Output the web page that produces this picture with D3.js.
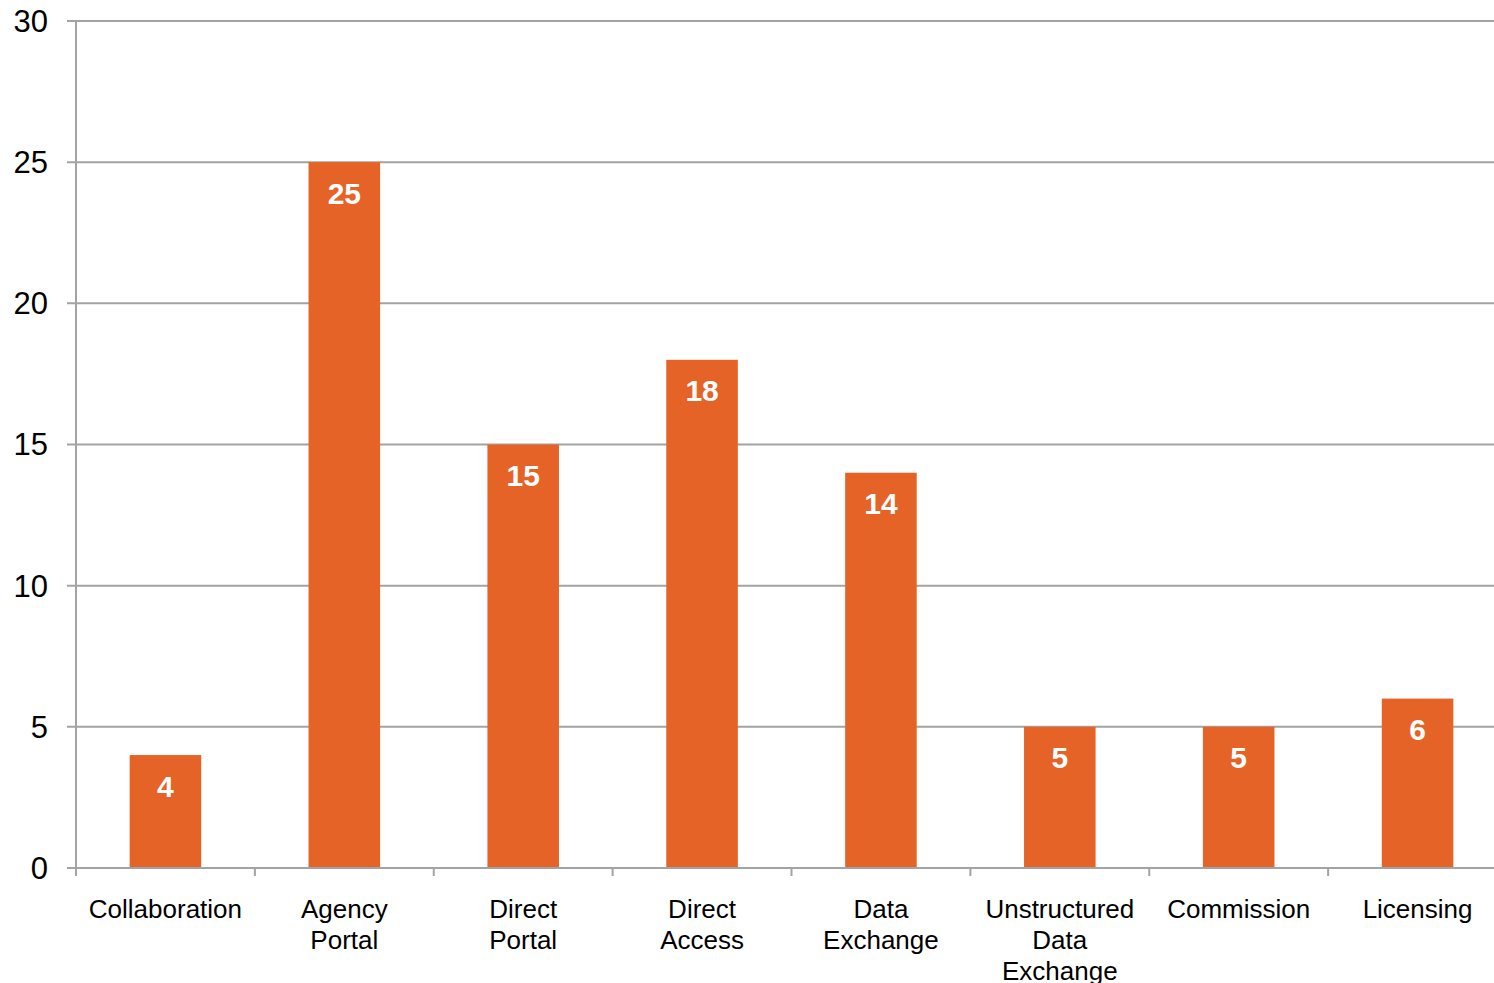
<!DOCTYPE html>
<html>
<head>
<meta charset="utf-8">
<script src="https://cdn.jsdelivr.net/npm/d3@7"></script>
<style>
  html, body { margin: 0; padding: 0; background: #fff; }
  svg { display: block; font-family: "Liberation Sans", Arial, sans-serif; }
</style>
</head>
<body>
<svg id="chart" width="1494" height="983"></svg>
<script>
// Channel counts by category
const categories = ["Collaboration", "Agency Portal", "Direct Portal", "Direct Access",
                    "Data Exchange", "Unstructured Data Exchange", "Commission", "Licensing"];
const values = [4, 25, 15, 18, 14, 5, 5, 6];
const yTicks = [0, 5, 10, 15, 20, 25, 30];

const svg = d3.select("#chart");
const plotLeft = 76, plotRight = 1507, plotTop = 21, plotBottom = 868;

const x = d3.scaleBand()
  .domain(categories)
  .range([plotLeft, plotRight])
  .paddingInner(0.6)
  .paddingOuter(0.3);

const y = d3.scaleLinear().domain([0, 30]).range([plotBottom, plotTop]);

const gridColor = "#a3a3a3";

// Horizontal gridlines with outward tick stubs
svg.append("g").selectAll("line")
  .data(yTicks)
  .join("line")
  .attr("x1", plotLeft - 9)
  .attr("x2", 1494)
  .attr("y1", d => y(d))
  .attr("y2", d => y(d))
  .attr("stroke", gridColor)
  .attr("stroke-width", 2);

// Y axis labels
svg.append("g").selectAll("text")
  .data(yTicks)
  .join("text")
  .attr("x", 48)
  .attr("y", d => y(d))
  .attr("dy", "0.35em")
  .attr("text-anchor", "end")
  .attr("font-size", 31)
  .attr("fill", "#000")
  .text(d => d);

// Vertical axis line
svg.append("line")
  .attr("x1", plotLeft).attr("x2", plotLeft)
  .attr("y1", plotTop).attr("y2", plotBottom + 8)
  .attr("stroke", gridColor)
  .attr("stroke-width", 2);

// Category boundary ticks
const step = x.step();
const boundaries = d3.range(categories.length + 1).map(i => plotLeft + i * step);
svg.append("g").selectAll("line")
  .data(boundaries)
  .join("line")
  .attr("x1", d => d).attr("x2", d => d)
  .attr("y1", plotBottom).attr("y2", plotBottom + 8)
  .attr("stroke", gridColor)
  .attr("stroke-width", 2);

// Bars
const data = categories.map((c, i) => ({ c, v: values[i] }));
svg.append("g").selectAll("rect")
  .data(data)
  .join("rect")
  .attr("x", d => x(d.c))
  .attr("width", x.bandwidth())
  .attr("y", d => y(d.v))
  .attr("height", d => y(0) - y(d.v))
  .attr("fill", "#e66327");

// Baseline drawn over the bars
svg.append("line")
  .attr("x1", plotLeft).attr("x2", 1494)
  .attr("y1", plotBottom).attr("y2", plotBottom)
  .attr("stroke", gridColor)
  .attr("stroke-width", 2);

// Value labels inside bars
svg.append("g").selectAll("text")
  .data(data)
  .join("text")
  .attr("x", d => x(d.c) + x.bandwidth() / 2)
  .attr("y", d => y(d.v) + 31)
  .attr("dy", "0.35em")
  .attr("text-anchor", "middle")
  .attr("font-size", 30)
  .attr("font-weight", "bold")
  .attr("fill", "#fff")
  .text(d => d.v);

// Category labels, one word per line
const catLabels = svg.append("g").selectAll("text")
  .data(categories)
  .join("text")
  .attr("y", plotBottom + 41)
  .attr("text-anchor", "middle")
  .attr("font-size", 26)
  .attr("fill", "#000");

catLabels.each(function(d) {
  const cx = x(d) + x.bandwidth() / 2;
  d3.select(this).selectAll("tspan")
    .data(d.split(" "))
    .join("tspan")
    .attr("x", cx)
    .attr("dy", (w, i) => i === 0 ? "0.35em" : "31")
    .text(w => w);
});
</script>
</body>
</html>
